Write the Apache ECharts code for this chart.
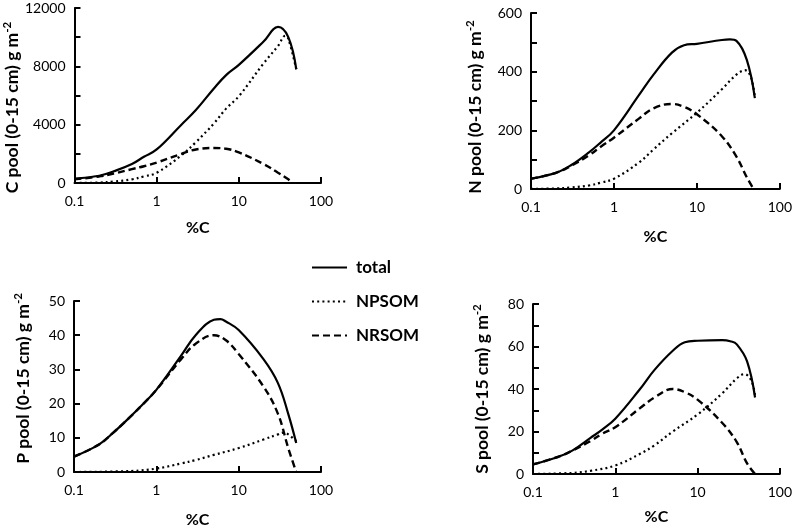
<!DOCTYPE html>
<html><head><meta charset="utf-8">
<script src="https://cdn.jsdelivr.net/npm/echarts@6/dist/echarts.min.js"></script>
<style>html,body{margin:0;padding:0;background:#fff}#c{width:795px;height:532px}</style>
</head><body><div id="c"></div>
<script>
// %C values (x, log scale)
const xC = [0.1, 0.2, 0.3, 0.5, 0.7, 1, 2, 3, 5, 7, 10, 20, 30, 40, 50];
const cTotal = [300, 500, 800, 1300, 1800, 2300, 4000, 5000, 6500, 7400, 8100, 9700, 10700, 10000, 7800];
const xCnp = [0.1, 0.2, 0.3, 0.5, 0.7, 1, 2, 3, 5, 7, 10, 20, 30, 37, 40, 50];
const cNPSOM = [0, 30, 100, 250, 450, 700, 1900, 2800, 4100, 5100, 5950, 8200, 9400, 10100, 9900, 7800];
const xCnr = [0.1, 0.2, 0.3, 0.5, 0.7, 1, 2, 3, 5, 7, 10, 20, 30, 40, 45];
const cNRSOM = [250, 450, 650, 950, 1150, 1400, 2000, 2300, 2400, 2350, 2100, 1300, 700, 250, 0];

const xN = [0.1, 0.2, 0.3, 0.5, 0.7, 1, 2, 3, 5, 7, 10, 20, 25, 30, 40, 50];
const nTotal = [35, 55, 80, 125, 160, 200, 320, 390, 465, 490, 495, 508, 510, 505, 440, 310];
const xNnp = [0.1, 0.2, 0.3, 0.5, 0.7, 1, 2, 3, 5, 10, 20, 30, 38, 45, 50];
const nNPSOM = [0, 2, 5, 12, 22, 35, 90, 135, 190, 260, 340, 390, 405, 380, 310];
const xNnr = [0.1, 0.2, 0.3, 0.5, 0.7, 1, 2, 3, 5, 7, 10, 20, 30, 40, 47];
const nNRSOM = [35, 55, 78, 115, 145, 175, 240, 275, 290, 280, 255, 180, 110, 40, 5];

const xP = [0.1, 0.2, 0.3, 0.5, 0.7, 1, 2, 3, 5, 6, 7, 10, 20, 30, 40, 50];
const pTotal = [4.5, 8, 11.5, 16.5, 20, 24, 34, 40, 44.5, 44.7, 44, 41.5, 33, 26, 17, 8.5];
const xPnp = [0.1, 0.5, 1, 2, 3, 5, 10, 20, 30, 35, 40, 50];
const pNPSOM = [0, 0.3, 1, 2.5, 3.5, 5, 7, 9.5, 11, 11.5, 11, 9];
const xPnr = [0.1, 0.2, 0.3, 0.5, 0.7, 1, 2, 3, 5, 7, 10, 20, 30, 40, 50];
const pNRSOM = [4.5, 8, 11.5, 16.5, 20, 24, 33, 37.5, 40, 38.5, 34.5, 25, 17, 7, 0];

const xS = [0.1, 0.2, 0.3, 0.5, 0.7, 1, 2, 3, 5, 7, 10, 20, 25, 30, 40, 50];
const sTotal = [4.5, 8, 11, 17, 21, 26, 40, 49, 58, 62, 62.7, 63, 62.5, 61, 53, 36];
const xSnp = [0.1, 0.3, 0.5, 1, 2, 3, 5, 10, 20, 30, 37, 45, 50];
const sNPSOM = [0, 0.5, 1.5, 4, 9.5, 13.5, 20, 28, 38, 45, 47, 44, 37];
const xSnr = [0.1, 0.2, 0.3, 0.5, 0.7, 1, 2, 3, 5, 7, 10, 20, 30, 40, 50];
const sNRSOM = [4.5, 8, 11, 15.5, 19, 22, 31, 36, 40, 38.5, 35, 24, 15, 5, 0];

const xTicks = [0.1, 1, 10, 100];
const seriesNames = ['total', 'NPSOM', 'NRSOM'];
const yTitles = ['C pool (0-15 cm) g m', 'N pool (0-15 cm) g m', 'P pool (0-15 cm) g m', 'S pool (0-15 cm) g m'];
const yMax = [12000, 600, 50, 80];
const yTick = [2000, 100, 10, 10];
const yLabelStep = [4000, 200, 10, 20];

const FONT = 'Lato';
const grids = [
  {left: 74, top: 8, width: 247, height: 175},
  {left: 531, top: 13, width: 251, height: 176},
  {left: 74, top: 301, width: 247, height: 171},
  {left: 533, top: 304, width: 247, height: 170}
];
const yGaps = [51, 45, 40, 40];
const xGaps = [37, 40, 40, 35];
// shift of the y title along the axis (screen px, positive = down)
const yShift = [12, 6, -8, 0];

const panels = [
  [[xC, cTotal], [xCnp, cNPSOM], [xCnr, cNRSOM]],
  [[xN, nTotal], [xNnp, nNPSOM], [xNnr, nNRSOM]],
  [[xP, pTotal], [xPnp, pNPSOM], [xPnr, pNRSOM]],
  [[xS, sTotal], [xSnp, sNPSOM], [xSnr, sNRSOM]]
];
const styles = [
  {type: 'solid', width: 2.2},
  {type: [2, 3.2], width: 2.2},
  {type: [7, 4], width: 2.4}
];

const xAxis = [], yAxis = [], series = [];
panels.forEach((p, i) => {
  xAxis.push({
    type: 'log', logBase: 10, min: 0.1, max: 100, gridIndex: i,
    name: '%C', nameLocation: 'middle', nameGap: xGaps[i],
    nameTextStyle: {fontFamily: FONT, fontWeight: 'bold', fontSize: 16, color: '#000'},
    axisLine: {lineStyle: {color: '#000', width: 2}},
    axisTick: {inside: true, length: 6, lineStyle: {color: '#000', width: 2}},
    splitLine: {show: false}, minorTick: {show: false},
    axisLabel: {fontFamily: FONT, fontSize: 14, color: '#000', margin: 11,
      formatter: v => String(Math.round(v * 10) / 10)}
  });
  const sh = yShift[i];
  yAxis.push({
    type: 'value', min: 0, max: yMax[i], interval: yTick[i], gridIndex: i,
    name: '{a|' + yTitles[i] + '}{s|-2}', nameLocation: 'middle', nameGap: yGaps[i],
    nameTextStyle: {
      padding: sh >= 0 ? [0, 2 * sh, 0, 0] : [0, 0, 0, -2 * sh],
      rich: {
        a: {fontFamily: FONT, fontWeight: 'bold', fontSize: 17.5, color: '#000', lineHeight: 22},
        s: {fontFamily: FONT, fontWeight: 'bold', fontSize: 11.5, color: '#000', verticalAlign: 'top', lineHeight: 22}
      }},
    axisLine: {show: true, lineStyle: {color: '#000', width: 2}},
    axisTick: {show: true, inside: true, length: 6, lineStyle: {color: '#000', width: 2}},
    splitLine: {show: false},
    axisLabel: {fontFamily: FONT, fontSize: 14, color: '#000', margin: 9,
      formatter: v => (Math.round(v) % yLabelStep[i] === 0 ? String(v) : '')}
  });
  p.forEach((d, k) => {
    series.push({
      name: seriesNames[k], type: 'line', xAxisIndex: i, yAxisIndex: i,
      data: d[0].map((x, j) => [x, d[1][j]]),
      smooth: 0.4, symbol: 'none', silent: true,
      lineStyle: {color: '#000', width: styles[k].width, type: styles[k].type, cap: 'butt'},
      itemStyle: {color: '#000'}
    });
  });
});

const chart = echarts.init(document.getElementById('c'));
chart.setOption({
  animation: false,
  backgroundColor: '#fff',
  grid: grids,
  xAxis, yAxis, series,
  legend: {
    data: seriesNames, orient: 'vertical', left: 306, top: 254,
    itemWidth: 35, itemHeight: 14, itemGap: 17,
    itemStyle: {color: 'rgba(0,0,0,0)', borderWidth: 0, opacity: 0},
    textStyle: {fontFamily: FONT, fontWeight: 'bold', fontSize: 17, color: '#000', padding: [0, 0, 0, 4]},
    selectedMode: false
  }
});
</script></body></html>
